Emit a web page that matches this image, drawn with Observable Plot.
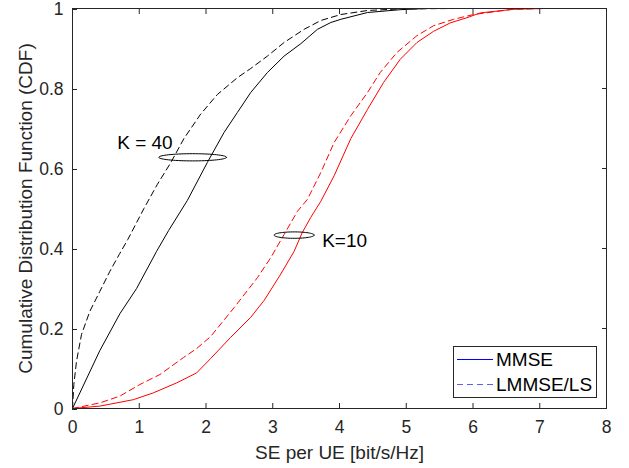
<!DOCTYPE html>
<html><head><meta charset="utf-8">
<script src="https://cdn.jsdelivr.net/npm/d3@7"></script>
<script src="https://cdn.jsdelivr.net/npm/@observablehq/plot@0.6"></script>
<style>
body{margin:0;background:#fff;}
#chart{width:629px;height:468px;}
</style></head><body><div id="chart"></div>
<script>
// ---- ticks ----
const xTicks = [0, 1, 2, 3, 4, 5, 6, 7, 8];
const yTicks = [0, 0.2, 0.4, 0.6, 0.8, 1];
const yTickLabels = ["0", "0.2", "0.4", "0.6", "0.8", "1"];
const xLabel = "SE per UE [bit/s/Hz]";
const yLabel = "Cumulative Distribution Function (CDF)";

// ---- K = 40, MMSE (black solid) ----
const k40MmseX = [0, 0.41, 0.71, 0.96, 1.26, 1.44, 1.72, 2.02, 2.27, 2.47, 2.67, 2.92, 3.17, 3.42, 3.67, 3.87, 4.02, 4.42, 4.91, 5.3, 5.76];
const k40MmseY = [0, 0.145, 0.237, 0.30, 0.393, 0.445, 0.52, 0.615, 0.69, 0.74, 0.79, 0.84, 0.881, 0.912, 0.948, 0.965, 0.973, 0.99, 0.997, 1, 1];
// ---- K = 40, LMMSE/LS (black dashed) ----
const k40LmmseX = [0, 0.02, 0.06, 0.135, 0.26, 0.41, 0.56, 0.70, 0.83, 1.07, 1.27, 1.47, 1.67, 1.92, 2.17, 2.47, 2.67, 2.92, 3.17, 3.47, 3.72, 4.02, 4.42, 4.9, 5.76];
const k40LmmseY = [0, 0.06, 0.118, 0.185, 0.243, 0.293, 0.343, 0.385, 0.423, 0.50, 0.56, 0.614, 0.675, 0.736, 0.785, 0.827, 0.85, 0.881, 0.915, 0.948, 0.97, 0.985, 0.995, 0.999, 1];
// ---- K = 10, MMSE (red solid) ----
const k10MmseX = [0, 0.41, 0.91, 1.21, 1.56, 1.86, 2.07, 2.37, 2.67, 2.87, 3.12, 3.32, 3.44, 3.57, 3.72, 3.92, 4.17, 4.42, 4.66, 4.91, 5.16, 5.41, 5.66, 5.91, 6.11, 6.6, 7.06];
const k10MmseY = [0, 0.006, 0.022, 0.039, 0.064, 0.089, 0.125, 0.178, 0.228, 0.27, 0.336, 0.393, 0.439, 0.478, 0.518, 0.582, 0.675, 0.748, 0.815, 0.873, 0.915, 0.943, 0.964, 0.977, 0.989, 0.998, 1];
// ---- K = 10, LMMSE/LS (red dashed) ----
const k10LmmseX = [0, 0.41, 0.71, 1.01, 1.31, 1.66, 1.86, 2.07, 2.42, 2.77, 2.97, 3.17, 3.37, 3.52, 3.72, 3.92, 4.17, 4.42, 4.61, 4.86, 5.16, 5.41, 5.71, 6.01, 6.6, 7.06];
const k10LmmseY = [0, 0.014, 0.031, 0.06, 0.085, 0.127, 0.15, 0.18, 0.252, 0.327, 0.377, 0.435, 0.493, 0.523, 0.59, 0.665, 0.732, 0.79, 0.84, 0.89, 0.932, 0.957, 0.973, 0.985, 0.998, 1];

// ---- annotations ----
const annLabels = ["K = 40", "K=10"];
const annX = [0.67, 3.74];
const annY = [0.664, 0.418];
const ellCx = [1.80, 3.32];
const ellCy = [0.628, 0.4335];
const ellRx = [0.507, 0.30];
const ellRy = [0.009, 0.008];

// ---- legend ----
const legendNames = ["MMSE", "LMMSE/LS"];
const legendColors = ["#0000ff", "#5c5cff"];
const legendDash = ["none", "6,4"];

const series = [
  {key: "k40mmse", xs: k40MmseX, ys: k40MmseY, color: "#000000", dash: null},
  {key: "k40lmmse", xs: k40LmmseX, ys: k40LmmseY, color: "#000000", dash: "6,4"},
  {key: "k10mmse", xs: k10MmseX, ys: k10MmseY, color: "#ff0000", dash: null},
  {key: "k10lmmse", xs: k10LmmseX, ys: k10LmmseY, color: "#ff0000", dash: "6,4"}
];

const lineMarks = series.map(s => Plot.line(s.xs.map((x, i) => ({x, y: s.ys[i]})), {
  x: "x", y: "y", stroke: s.color, strokeWidth: 1, strokeDasharray: s.dash || undefined
}));

const ellipseMarks = ellCx.map((cx, k) => {
  const pts = d3.range(0, 73).map(i => {
    const t = (i / 72) * 2 * Math.PI;
    return {x: cx + ellRx[k] * Math.cos(t), y: ellCy[k] + ellRy[k] * Math.sin(t)};
  });
  return Plot.line(pts, {x: "x", y: "y", stroke: "#000", strokeWidth: 1});
});

const annData = annLabels.map((t, i) => ({t, x: annX[i], y: annY[i]}));
const font = "'Liberation Sans', Arial, Helvetica, sans-serif";
const axisColor = "#262626";

const plot = Plot.plot({
  width: 629, height: 468,
  marginLeft: 72, marginRight: 23, marginTop: 8, marginBottom: 60,
  style: {fontFamily: font, fontSize: "17.5px", color: axisColor, background: "white", overflow: "visible"},
  x: {domain: [0, 8]},
  y: {domain: [0, 1]},
  marks: [
    ...lineMarks,
    ...ellipseMarks,
    Plot.text(annData, {x: "x", y: "y", text: "t", textAnchor: "start", fill: "#000", fontSize: 19}),
    Plot.axisX({ticks: xTicks, tickSize: -5, tickPadding: 17, tickFormat: d => String(d), label: null, stroke: axisColor, fill: axisColor}),
    Plot.axisX({anchor: "top", ticks: xTicks, tickSize: -5, tickFormat: () => "", label: null, stroke: axisColor}),
    Plot.axisY({ticks: yTicks, tickSize: -5, tickPadding: 14, dy: 1, tickFormat: d => yTickLabels[yTicks.indexOf(d)], label: null, stroke: axisColor, fill: axisColor}),
    Plot.axisY({anchor: "right", ticks: yTicks, tickSize: -5, tickFormat: () => "", label: null, stroke: axisColor}),
    Plot.frame({stroke: axisColor, strokeWidth: 1}),
    Plot.text([xLabel], {frameAnchor: "bottom", lineAnchor: "middle", textAnchor: "middle", dy: 44, fill: axisColor, fontSize: 19}),
    Plot.text([yLabel], {frameAnchor: "left", lineAnchor: "middle", textAnchor: "middle", rotate: -90, dx: -47, fill: axisColor, fontSize: 19})
  ]
});
document.getElementById("chart").appendChild(plot);

// legend box (bottom-right inside the axes)
const svg = d3.select(plot);
const lx = 453, ly = 346, lw = 143, lh = 51;
const lg = svg.append("g").attr("font-family", font).attr("font-size", 19).attr("text-anchor", "start");
lg.append("rect").attr("x", lx + 0.5).attr("y", ly + 0.5).attr("width", lw).attr("height", lh)
  .attr("fill", "white").attr("stroke", axisColor).attr("stroke-width", 1);
legendNames.forEach((name, i) => {
  const yy = ly + 13.5 + i * 25;
  lg.append("line").attr("x1", lx + 4).attr("x2", lx + 40).attr("y1", yy).attr("y2", yy)
    .attr("stroke", legendColors[i]).attr("stroke-width", 1)
    .attr("stroke-dasharray", legendDash[i]);
  lg.append("text").attr("x", lx + 43).attr("y", yy).attr("dy", "0.35em")
    .attr("text-anchor", "start").attr("fill", "#000").text(name);
});
</script></body></html>
